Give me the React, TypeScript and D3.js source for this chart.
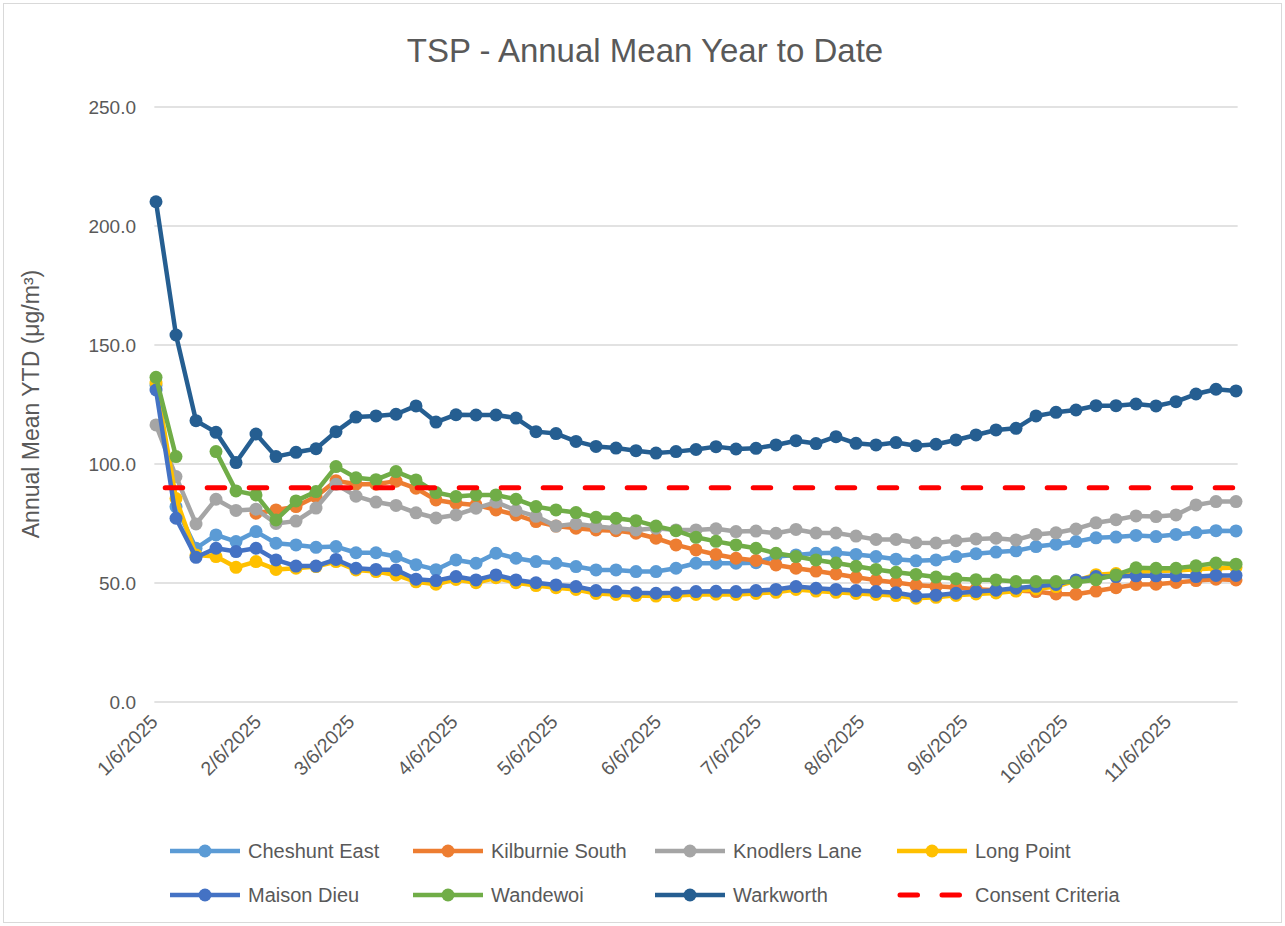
import React from 'react';
import * as d3 from 'd3';

// sampling dates (1-in-6 day schedule)
const sampleDates = [
  '2025-01-06', '2025-01-12', '2025-01-18', '2025-01-24', '2025-01-30',
  '2025-02-05', '2025-02-11', '2025-02-17', '2025-02-23', '2025-03-01',
  '2025-03-07', '2025-03-13', '2025-03-19', '2025-03-25', '2025-03-31',
  '2025-04-06', '2025-04-12', '2025-04-18', '2025-04-24', '2025-04-30',
  '2025-05-06', '2025-05-12', '2025-05-18', '2025-05-24', '2025-05-30',
  '2025-06-05', '2025-06-11', '2025-06-17', '2025-06-23', '2025-06-29',
  '2025-07-05', '2025-07-11', '2025-07-17', '2025-07-23', '2025-07-29',
  '2025-08-04', '2025-08-10', '2025-08-16', '2025-08-22', '2025-08-28',
  '2025-09-03', '2025-09-09', '2025-09-15', '2025-09-21', '2025-09-27',
  '2025-10-03', '2025-10-09', '2025-10-15', '2025-10-21', '2025-10-27',
  '2025-11-02', '2025-11-08', '2025-11-14', '2025-11-20', '2025-11-26',
];

const tickDates = [
  '2025-01-06', '2025-02-06', '2025-03-06', '2025-04-06', '2025-05-06', '2025-06-06',
  '2025-07-06', '2025-08-06', '2025-09-06', '2025-10-06', '2025-11-06',
];
const tickLabels = [
  '1/6/2025', '2/6/2025', '3/6/2025', '4/6/2025', '5/6/2025', '6/6/2025',
  '7/6/2025', '8/6/2025', '9/6/2025', '10/6/2025', '11/6/2025',
];
const yTicks = [0, 50, 100, 150, 200, 250];

const cheshuntEast = [
  133.0, 82.1, 64.6, 70.2, 67.4, 71.6, 66.7, 66.0, 65.0, 65.3,
  62.7, 62.7, 61.1, 57.7, 55.6, 59.7, 58.3, 62.5, 60.4, 59.0,
  58.3, 56.9, 55.5, 55.5, 54.8, 54.8, 56.2, 58.3, 58.3, 58.3,
  58.5, 61.1, 61.8, 62.5, 62.7, 62.0, 61.1, 60.0, 59.3, 59.7,
  61.1, 62.3, 63.0, 63.5, 65.3, 66.3, 67.4, 69.0, 69.3, 70.0,
  69.5, 70.4, 71.2, 72.0, 71.9,
];
const kilburnieSouth = [
  null, null, null, null, null, 79.3, 80.7, 82.1, 86.3, 93.0,
  91.5, 91.5, 92.8, 89.8, 84.9, 83.5, 82.8, 80.7, 78.6, 75.8,
  73.9, 73.0, 72.3, 72.0, 70.9, 68.8, 66.0, 63.9, 62.0, 60.4,
  59.5, 57.6, 56.2, 55.0, 53.8, 52.4, 51.2, 50.2, 49.1, 48.6,
  48.1, 47.4, 47.0, 46.8, 46.4, 45.4, 45.3, 46.6, 48.0, 49.4,
  49.5, 50.2, 51.0, 51.6, 51.3,
];
const knodlersLane = [
  116.4, 94.7, 74.8, 85.2, 80.5, 81.0, 75.0, 76.0, 81.5, 91.5,
  86.5, 84.0, 82.6, 79.5, 77.3, 78.6, 81.4, 84.0, 80.5, 78.0,
  73.9, 74.9, 73.7, 73.0, 72.3, 73.0, 72.3, 72.3, 72.8, 71.6,
  71.8, 70.9, 72.5, 71.0, 71.0, 69.7, 68.3, 68.3, 66.9, 66.8,
  67.8, 68.5, 68.8, 68.1, 70.4, 71.1, 72.7, 75.3, 76.6, 78.2,
  77.9, 78.6, 82.8, 84.2, 84.2,
];
const longPoint = [
  134.0, 85.5, 61.8, 61.1, 56.6, 59.0, 55.7, 56.2, 56.9, 59.0,
  55.5, 54.8, 53.4, 50.5, 49.5, 51.5, 50.1, 52.2, 50.1, 48.9,
  48.0, 47.3, 45.6, 45.2, 44.7, 44.5, 44.7, 45.2, 45.3, 45.2,
  45.6, 46.1, 47.3, 46.6, 46.1, 45.6, 45.2, 44.7, 43.6, 44.0,
  44.8, 45.4, 45.8, 46.6, 47.5, 48.5, 51.0, 53.5, 54.0, 54.6,
  55.0, 55.3, 55.8, 56.2, 56.5,
];
const maisonDieu = [
  131.1, 77.2, 60.8, 64.6, 63.2, 64.6, 59.7, 57.1, 57.1, 59.9,
  56.2, 55.7, 55.5, 51.6, 51.0, 52.7, 51.3, 53.4, 51.3, 50.1,
  49.2, 48.5, 46.8, 46.4, 45.9, 45.7, 45.9, 46.4, 46.5, 46.4,
  46.8, 47.3, 48.5, 47.8, 47.3, 46.8, 46.4, 45.9, 44.5, 44.9,
  45.7, 46.4, 47.0, 47.8, 48.6, 49.4, 51.3, 52.7, 52.7, 53.0,
  53.0, 53.0, 52.7, 53.2, 53.2,
];
const wandewoi = [
  136.4, 103.1, null, 105.2, 88.7, 87.0, 76.5, 84.5, 88.4, 98.9,
  94.2, 93.4, 96.8, 93.3, 88.0, 86.3, 87.0, 87.0, 85.2, 82.1,
  80.7, 79.6, 77.6, 77.2, 76.2, 73.9, 72.0, 69.2, 67.5, 66.0,
  64.6, 62.5, 61.1, 59.7, 58.4, 57.0, 55.7, 54.5, 53.6, 52.5,
  51.8, 51.4, 51.3, 50.6, 50.6, 50.6, 50.3, 51.4, 53.4, 56.4,
  56.2, 56.2, 57.2, 58.4, 57.9,
];
const warkworth = [
  210.2, 154.2, 118.2, 113.3, 100.6, 112.6, 103.1, 104.9, 106.4, 113.6,
  119.7, 120.2, 120.9, 124.4, 117.6, 120.7, 120.6, 120.6, 119.3, 113.6,
  112.8, 109.5, 107.4, 106.7, 105.6, 104.6, 105.2, 106.1, 107.3, 106.3,
  106.6, 108.0, 109.8, 108.6, 111.5, 108.7, 108.0, 109.0, 107.7, 108.3,
  110.1, 112.2, 114.3, 115.0, 120.2, 121.7, 122.7, 124.5, 124.5, 125.2,
  124.4, 126.2, 129.4, 131.4, 130.7,
];
const consentCriteria = 90;

const series = [
  { name: 'Cheshunt East', values: cheshuntEast, color: '#5B9BD5' },
  { name: 'Kilburnie South', values: kilburnieSouth, color: '#ED7D31' },
  { name: 'Knodlers Lane', values: knodlersLane, color: '#A5A5A5' },
  { name: 'Long Point', values: longPoint, color: '#FFC000' },
  { name: 'Maison Dieu', values: maisonDieu, color: '#4472C4' },
  { name: 'Wandewoi', values: wandewoi, color: '#70AD47' },
  { name: 'Warkworth', values: warkworth, color: '#255E91' },
];

const W = 1285;
const H = 926;
const FONT = '"Liberation Sans", Arial, sans-serif';
const TEXT = '#595959';
const GRID = '#D9D9D9';
const LW = 4.5;
const R = 6.5;

const parse = d3.utcParse('%Y-%m-%d');
const dates = sampleDates.map(parse);

const x = d3.scaleUtc()
  .domain([dates[0], dates[dates.length - 1]])
  .range([156, 1236]);
const y = d3.scaleLinear().domain([0, 250]).range([702, 107]);
const halfDay = (x(dates[1]) - x(dates[0])) / 12;
const gridX0 = x.range()[0] - halfDay;
const gridX1 = x.range()[1] + halfDay;

const line = d3.line()
  .defined(d => d[1] != null)
  .x(d => x(d[0]))
  .y(d => y(d[1]));

const legendCols = [170, 413, 655, 897];
const legendRows = [851, 895];
const legendItems = [
  ...series.map(s => ({ name: s.name, color: s.color, dashed: false })),
  { name: 'Consent Criteria', color: '#FF0000', dashed: true },
];

export default function App() {
  return (
    <div style={{ position: 'absolute', left: 0, top: 0 }}>
      <svg width={W} height={H} style={{ display: 'block', fontFamily: FONT }}>
        <rect x={0} y={0} width={W} height={H} fill="#fff" />
        <rect x={3.5} y={3.5} width={W - 7} height={H - 7} fill="none" stroke={GRID} strokeWidth={1} />

        <text x={645} y={62} textAnchor="middle" fontSize={33} fill={TEXT}>
          TSP - Annual Mean Year to Date
        </text>

        {yTicks.map(t => (
          <g key={t}>
            <line x1={gridX0} x2={gridX1} y1={y(t)} y2={y(t)} stroke={GRID} strokeWidth={1.3} />
            <text x={136} y={y(t)} dy="0.35em" textAnchor="end" fontSize={19} fill={TEXT}>
              {d3.format('.1f')(t)}
            </text>
          </g>
        ))}

        <text transform={`translate(39,404) rotate(-90)`} textAnchor="middle" fontSize={23} fill={TEXT}>
          Annual Mean YTD (μg/m³)
        </text>

        {tickDates.map((d, i) => {
          const tx = x(parse(d));
          return (
            <text key={d} transform={`translate(${tx + 3},723) rotate(-45)`} textAnchor="end" fontSize={19.5} fill={TEXT}>
              {tickLabels[i]}
            </text>
          );
        })}

        {series.map(s => {
          const pts = dates.map((d, i) => [d, s.values[i]]);
          return (
            <g key={s.name}>
              <path d={line(pts)} fill="none" stroke={s.color} strokeWidth={LW} strokeLinejoin="round" />
              {pts.filter(p => p[1] != null).map((p, i) => (
                <circle key={i} cx={x(p[0])} cy={y(p[1])} r={R} fill={s.color} />
              ))}
            </g>
          );
        })}

        <path
          d={line([[dates[0], consentCriteria], [dates[dates.length - 1], consentCriteria]])}
          fill="none" stroke="#FF0000" strokeWidth={5} strokeLinecap="round"
          strokeDasharray="17.5 24.5" strokeDashoffset={32.8}
        />

        {legendItems.map((it, i) => {
          const lx = legendCols[i % 4];
          const ly = legendRows[Math.floor(i / 4)];
          return (
            <g key={it.name}>
              {it.dashed ? (
                <line x1={lx + 3} x2={lx + 70} y1={ly} y2={ly} stroke={it.color} strokeWidth={5}
                  strokeLinecap="round" strokeDasharray="17.5 24.5" />
              ) : (
                <g>
                  <line x1={lx} x2={lx + 70} y1={ly} y2={ly} stroke={it.color} strokeWidth={LW} />
                  <circle cx={lx + 35} cy={ly} r={R} fill={it.color} />
                </g>
              )}
              <text x={lx + 78} y={ly} dy="0.35em" fontSize={20} fill={TEXT}>{it.name}</text>
            </g>
          );
        })}
      </svg>
    </div>
  );
}
